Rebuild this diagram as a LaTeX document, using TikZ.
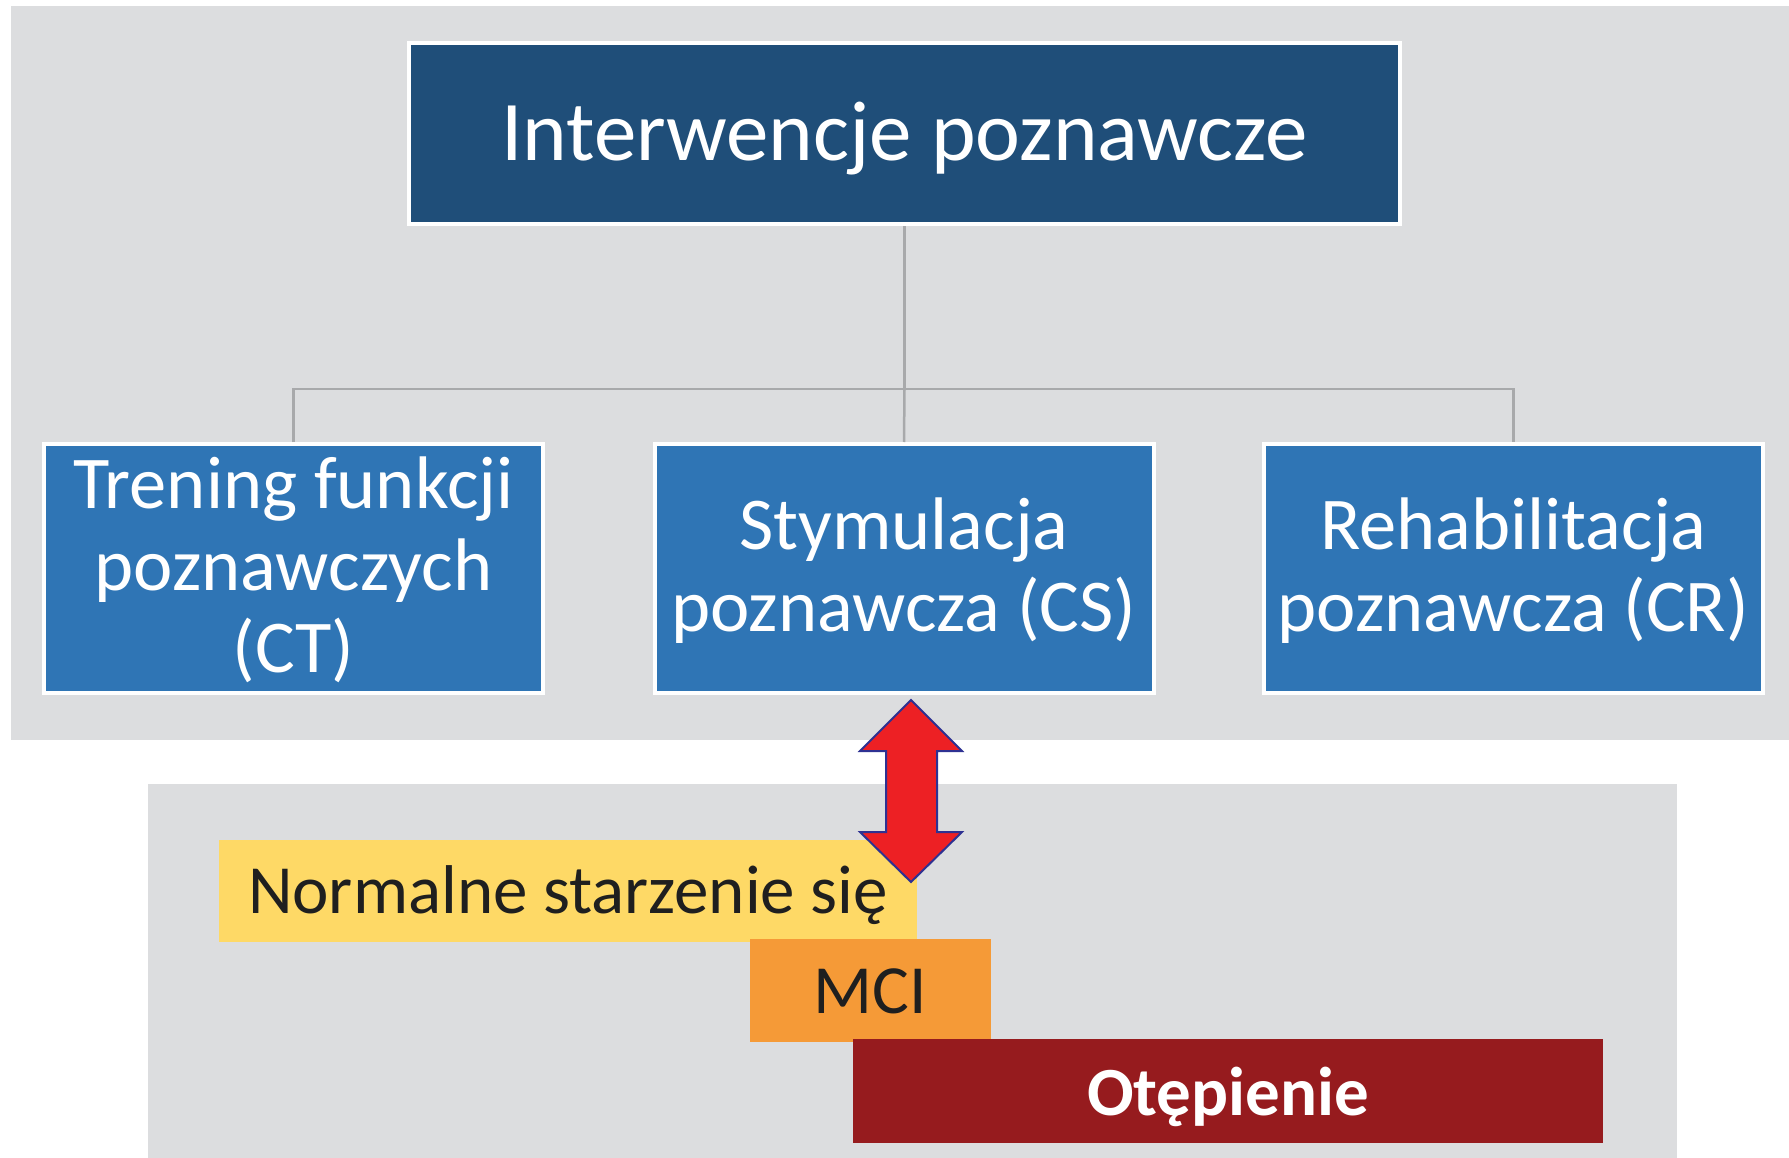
\documentclass[tikz,border=0pt]{standalone}
\usepackage{fontspec}
\setmainfont{Carlito}
\definecolor{panelgray}{HTML}{DCDDDF}
\definecolor{darkblue}{HTML}{1F4E79}
\definecolor{midblue}{HTML}{2F75B5}
\definecolor{linegray}{HTML}{A8A9AB}
\definecolor{ayellow}{HTML}{FED966}
\definecolor{aorange}{HTML}{F59A37}
\definecolor{adarkred}{HTML}{961B1E}
\definecolor{arrowred}{HTML}{ED2024}
\definecolor{arrownavy}{HTML}{2E3192}
\newcommand{\mylines}[1]{\raisebox{-6pt}[\height][\depth]{\begin{tabular}{@{}c@{}}#1\end{tabular}}}
\tikzset{
  bluebox/.style={draw=white, line width=4pt, fill=midblue, text=white, inner sep=0pt,
    minimum width=499pt, minimum height=249pt, font=\fontsize{74.5}{82}\selectfont},
  stagebox/.style={inner sep=0pt, font=\fontsize{69}{80}\selectfont},
  conn/.style={draw=linegray, line width=2.5pt}
}
\begin{document}
\begin{tikzpicture}[x=1pt,y=-1pt]
\useasboundingbox (0,0) rectangle (1789,1158);
\fill[white] (0,0) rectangle (1789,1158);
% panels
\fill[panelgray] (11,6) rectangle (1789,740);
\fill[panelgray] (148,784) rectangle (1677,1158);
% top node
\node[draw=white, line width=4pt, fill=darkblue, text=white, inner sep=0pt,
  minimum width=991pt, minimum height=181pt, font=\fontsize{85}{96}\selectfont,
  text height=66pt, text depth=12pt]
  (top) at (904.5,134) {Interwencje poznawcze};
% three boxes
\node[bluebox] (ct) at (293.5,568.5) {\mylines{Trening funkcji\\poznawczych\\(CT)}};
\node[bluebox] (cs) at (904,568.5) {\mylines{Stymulacja\\poznawcza (CS)}};
\node[bluebox] (cr) at (1513.5,568.5) {\mylines{Rehabilitacja\\poznawcza (CR)}};
% connectors
\coordinate (j) at (904.5,389);
\draw[conn] (top.south) -- (j);
\draw[conn] (ct.north) |- (j) -| (cr.north);
\draw[conn] (j) -- (cs.north);
% stages
\node[stagebox, fill=ayellow, text=black!88, minimum width=698pt, minimum height=102pt,
  text height=56pt, text depth=12pt]
  (norm) at (568,891) {Normalne starzenie się};
\node[stagebox, fill=aorange, text=black!88, minimum width=241pt, minimum height=103pt,
  text height=57pt, text depth=12pt]
  (mci) at (870.5,990.5) {MCI};
\node[stagebox, fill=adarkred, text=white, minimum width=750pt, minimum height=104pt,
  font=\fontsize{69}{80}\selectfont\bfseries, text height=60pt, text depth=12pt]
  (dem) at (1228,1091) {Otępienie};
% double arrow
\coordinate (atop) at (911,700);
\coordinate (abot) at (911,882);
\filldraw[fill=arrowred, draw=arrownavy, line width=2pt, line join=miter]
  (atop) -- (962,751) -- (937,751) -- (937,832) -- (962,832) -- (abot)
  -- (860,832) -- (886,832) -- (886,751) -- (860,751) -- cycle;
\end{tikzpicture}
\end{document}
